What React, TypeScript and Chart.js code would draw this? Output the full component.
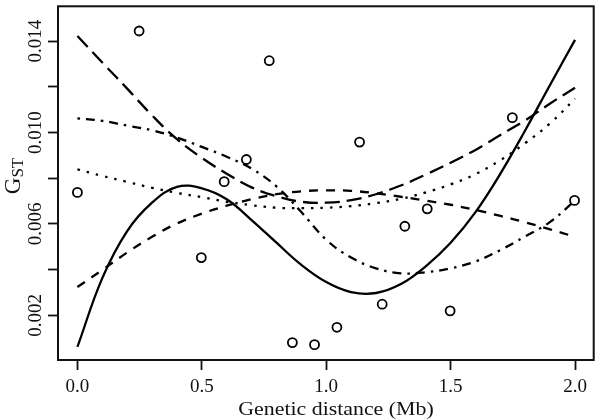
import React, { useEffect, useRef } from 'react';
import { Chart, registerables } from 'chart.js';

Chart.register(...registerables);

// Observed points
const pointsX = [0.0, 0.248, 0.498, 0.59, 0.679, 0.771, 0.864, 0.953, 1.043, 1.134, 1.225, 1.316, 1.406, 1.498, 1.748, 1.998];
const pointsY = [0.00738, 0.01444, 0.00453, 0.00785, 0.00882, 0.01314, 0.00081, 0.00072, 0.00148, 0.00958, 0.00249, 0.0059, 0.00666, 0.0022, 0.01065, 0.00703];

// Fitted curves sampled along genetic distance
const curveX = [0.0, 0.1, 0.2, 0.3, 0.4, 0.5, 0.6, 0.7, 0.8, 0.9, 1.0, 1.1, 1.2, 1.3, 1.4, 1.5, 1.6, 1.7, 1.8, 1.9, 2.0];
const solidY = [0.00062, 0.00363, 0.00569, 0.00693, 0.00762, 0.00756, 0.00708, 0.00617, 0.00518, 0.00421, 0.00346, 0.00302, 0.00298, 0.00337, 0.00415, 0.00518, 0.00652, 0.0082, 0.0101, 0.01209, 0.01405];
const longDashY = [0.01422, 0.01306, 0.01192, 0.01075, 0.00971, 0.00889, 0.0082, 0.0076, 0.00721, 0.00697, 0.00693, 0.00704, 0.0073, 0.00768, 0.00816, 0.00868, 0.00924, 0.00989, 0.01053, 0.01127, 0.01196];
const dashedY = [0.00324, 0.00399, 0.00475, 0.00544, 0.00602, 0.00645, 0.0068, 0.00708, 0.0073, 0.00743, 0.00747, 0.00745, 0.00734, 0.00719, 0.00702, 0.00684, 0.00661, 0.00635, 0.00607, 0.00576, 0.00544];
const dottedY = [0.00839, 0.0081, 0.00784, 0.00758, 0.00736, 0.00717, 0.00697, 0.00682, 0.00671, 0.00669, 0.00671, 0.00678, 0.00691, 0.0071, 0.00738, 0.00773, 0.00818, 0.00879, 0.00954, 0.0104, 0.01148];
const dotDashY = [0.01062, 0.01051, 0.0103, 0.0101, 0.00978, 0.00937, 0.00894, 0.00842, 0.00764, 0.00652, 0.00531, 0.00453, 0.00406, 0.00384, 0.00389, 0.00406, 0.00436, 0.00486, 0.00546, 0.00609, 0.00702];

// Axes
const xTickValues = [0.0, 0.5, 1.0, 1.5, 2.0];
const xTickLabels = ['0.0', '0.5', '1.0', '1.5', '2.0'];
const yTickValues = [0.002, 0.004, 0.006, 0.008, 0.01, 0.012, 0.014];
const yTickLabels = ['0.002', '', '0.006', '', '0.010', '', '0.014'];
const xTitle = 'Genetic distance (Mb)';
const yTitleMain = 'G';
const yTitleSub = 'ST';

const FONT = '"Liberation Serif", "Times New Roman", serif';

const toXY = (xs: number[], ys: number[]) => xs.map((x, i) => ({ x, y: ys[i] }));

const framePlugin = {
  id: 'rframe',
  afterDraw(chart: any) {
    const { ctx, chartArea: a } = chart;
    ctx.save();
    ctx.strokeStyle = '#111';
    ctx.lineWidth = 2;
    ctx.strokeRect(a.left, a.top, a.right - a.left, a.bottom - a.top);

    // x axis title (slightly wide lettering, as in the reference)
    ctx.save();
    ctx.fillStyle = '#111';
    ctx.font = `19px ${FONT}`;
    ctx.textAlign = 'center';
    ctx.textBaseline = 'alphabetic';
    ctx.translate(336, 415);
    ctx.scale(1.15, 1);
    ctx.fillText(xTitle, 0, 0);
    ctx.restore();

    // y axis title G_ST
    ctx.fillStyle = '#111';
    ctx.translate(19.5, 176);
    ctx.rotate(-Math.PI / 2);
    ctx.font = `23px ${FONT}`;
    const wG = ctx.measureText(yTitleMain).width;
    ctx.font = `17px ${FONT}`;
    const wS = ctx.measureText(yTitleSub).width;
    const start = -(wG + wS) / 2;
    ctx.textAlign = 'left';
    ctx.textBaseline = 'alphabetic';
    ctx.font = `23px ${FONT}`;
    ctx.fillText(yTitleMain, start, 0);
    ctx.font = `17px ${FONT}`;
    ctx.fillText(yTitleSub, start + wG, 3);
    ctx.restore();
  },
};

export default function App() {
  const ref = useRef<HTMLCanvasElement | null>(null);

  useEffect(() => {
    document.body.style.margin = '0';
    const canvas = ref.current;
    if (!canvas) return;
    const lineBase = {
      type: 'line' as const,
      borderColor: '#000',
      borderWidth: 2.3,
      pointRadius: 0,
      fill: false,
      tension: 0.4,
      borderCapStyle: 'butt' as const,
    };
    const chart = new Chart(canvas, {
      type: 'line',
      data: {
        datasets: [
          {
            ...lineBase,
            label: 'points',
            data: toXY(pointsX, pointsY),
            showLine: false,
            pointRadius: 4.5,
            pointBorderWidth: 1.8,
            pointBorderColor: '#000',
            pointBackgroundColor: 'rgba(0,0,0,0)',
            pointStyle: 'circle',
          },
          { ...lineBase, label: 'solid', data: toXY(curveX, solidY) },
          { ...lineBase, label: 'longdash', data: toXY(curveX, longDashY), borderDash: [15, 7] },
          { ...lineBase, label: 'dashed', data: toXY(curveX, dashedY), borderDash: [9, 8] },
          { ...lineBase, label: 'dotted', data: toXY(curveX, dottedY), borderDash: [2.5, 7] },
          { ...lineBase, label: 'dotdash', data: toXY(curveX, dotDashY), borderDash: [2.5, 6, 9, 6] },
        ],
      },
      options: {
        animation: false,
        responsive: false,
        devicePixelRatio: 1,
        layout: { padding: { top: 1, right: 2, left: 0, bottom: 0 } },
        plugins: { legend: { display: false }, tooltip: { enabled: false }, title: { display: false } },
        scales: {
          x: {
            type: 'linear',
            min: -0.078,
            max: 2.075,
            afterBuildTicks: (s: any) => {
              s.ticks = xTickValues.map((v) => ({ value: v }));
            },
            afterFit: (s: any) => {
              s.height = 59;
            },
            ticks: {
              callback: (_v: any, i: number) => xTickLabels[i],
              color: '#111',
              font: { family: FONT, size: 19 },
              padding: 6,
              maxRotation: 0,
              minRotation: 0,
              autoSkip: false,
            },
            grid: {
              drawOnChartArea: false,
              drawTicks: true,
              tickLength: 10,
              tickColor: '#111',
              tickWidth: 1.8,
            },
            border: { display: false },
          },
          y: {
            type: 'linear',
            min: 0.00005,
            max: 0.01552,
            afterBuildTicks: (s: any) => {
              s.ticks = yTickValues.map((v) => ({ value: v }));
            },
            afterFit: (s: any) => {
              s.width = 58;
            },
            ticks: {
              callback: (_v: any, i: number) => yTickLabels[i],
              color: '#111',
              font: { family: FONT, size: 19 },
              minRotation: 90,
              maxRotation: 90,
              crossAlign: 'center',
              padding: -9,
              autoSkip: false,
            },
            grid: {
              drawOnChartArea: false,
              drawTicks: true,
              tickLength: 10,
              tickColor: '#111',
              tickWidth: 1.8,
            },
            border: { display: false },
          },
        },
      },
      plugins: [framePlugin],
    } as any);
    return () => chart.destroy();
  }, []);

  return (
    <div style={{ position: 'absolute', left: 0, top: 0, width: 600, height: 419 }}>
      <canvas ref={ref} width={600} height={419} style={{ width: 600, height: 419, display: 'block' }} />
    </div>
  );
}
